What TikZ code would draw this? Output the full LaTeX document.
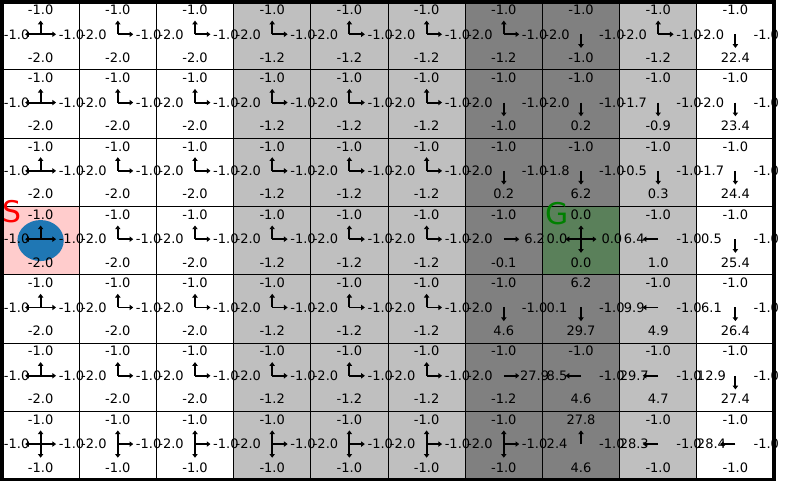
\documentclass[tikz,border=0pt]{standalone}
\usepackage{fontspec}
\setmainfont{DejaVu Sans}
\usepackage{xcolor}
\usetikzlibrary{arrows.meta}

\definecolor{windone}{gray}{0.75}
\definecolor{windtwo}{gray}{0.5}
\definecolor{startred}{RGB}{255,204,204}
\definecolor{goalgreen}{RGB}{90,128,90}
\definecolor{agentblue}{RGB}{31,119,180}

\begin{document}
\begin{tikzpicture}[
    x=1.544cm, y=-1.366cm,
    qval/.style={font=\fontsize{7.4}{8}\selectfont, inner sep=0pt},
    qarrow/.style={line width=1.1pt, -{Triangle[length=2.1pt,width=3pt]}},
    cellline/.style={line width=0.55pt},
    frameline/.style={line width=2.3pt},
    bigletter/.style={font=\fontsize{17}{17}\selectfont, inner sep=0pt, anchor=west}
]
    \useasboundingbox (-0.026,-0.022) rectangle (10.1425,7.02);

    % Wind columns
    \foreach \c/\w in {3/windone,4/windone,5/windone,6/windtwo,7/windtwo,8/windone}
        \fill[\w] (\c,0) rectangle ++(1,7);

    % Start and goal cells
    \fill[startred] (0,3) rectangle ++(1,1);
    \fill[goalgreen] (7,3) rectangle ++(1,1);

    % Grid
    \foreach \c in {1,...,9}
        \draw[cellline] (\c,0) -- (\c,7);
    \foreach \r in {1,...,6}
        \draw[cellline] (0,\r) -- (10,\r);

    % Agent
    \fill[agentblue] (0.5,3.5) ellipse [x radius=0.463cm, y radius=0.41cm];

    % Start and goal letters
    \node[bigletter, text=red] (slbl) at (0.0,3.07) {S};
    \node[bigletter, text={rgb,255:red,0;green,128;blue,0}] (glbl) at (7.04,3.1) {G};

    % Action values: col/row/up/left/right/down/{greedy directions}
    \foreach \c/\r/\qu/\ql/\qr/\qd/\ar in {
        0/0/-1.0/-1.0/-1.0/-2.0/{270,180,0}, 1/0/-1.0/-2.0/-1.0/-2.0/{270,0},
        2/0/-1.0/-2.0/-1.0/-2.0/{270,0}, 3/0/-1.0/-2.0/-1.0/-1.2/{270,0},
        4/0/-1.0/-2.0/-1.0/-1.2/{270,0}, 5/0/-1.0/-2.0/-1.0/-1.2/{270,0},
        6/0/-1.0/-2.0/-1.0/-1.2/{270,0}, 7/0/-1.0/-2.0/-1.0/-1.0/{90},
        8/0/-1.0/-2.0/-1.0/-1.2/{270,0}, 9/0/-1.0/-2.0/-1.0/22.4/{90},
        0/1/-1.0/-1.0/-1.0/-2.0/{270,180,0}, 1/1/-1.0/-2.0/-1.0/-2.0/{270,0},
        2/1/-1.0/-2.0/-1.0/-2.0/{270,0}, 3/1/-1.0/-2.0/-1.0/-1.2/{270,0},
        4/1/-1.0/-2.0/-1.0/-1.2/{270,0}, 5/1/-1.0/-2.0/-1.0/-1.2/{270,0},
        6/1/-1.0/-2.0/-1.0/-1.0/{90}, 7/1/-1.0/-2.0/-1.0/0.2/{90},
        8/1/-1.0/-1.7/-1.0/-0.9/{90}, 9/1/-1.0/-2.0/-1.0/23.4/{90},
        0/2/-1.0/-1.0/-1.0/-2.0/{270,180,0}, 1/2/-1.0/-2.0/-1.0/-2.0/{270,0},
        2/2/-1.0/-2.0/-1.0/-2.0/{270,0}, 3/2/-1.0/-2.0/-1.0/-1.2/{270,0},
        4/2/-1.0/-2.0/-1.0/-1.2/{270,0}, 5/2/-1.0/-2.0/-1.0/-1.2/{270,0},
        6/2/-1.0/-2.0/-1.0/0.2/{90}, 7/2/-1.0/-1.8/-1.0/6.2/{90},
        8/2/-1.0/-0.5/-1.0/0.3/{90}, 9/2/-1.0/-1.7/-1.0/24.4/{90},
        0/3/-1.0/-1.0/-1.0/-2.0/{270,180,0}, 1/3/-1.0/-2.0/-1.0/-2.0/{270,0},
        2/3/-1.0/-2.0/-1.0/-2.0/{270,0}, 3/3/-1.0/-2.0/-1.0/-1.2/{270,0},
        4/3/-1.0/-2.0/-1.0/-1.2/{270,0}, 5/3/-1.0/-2.0/-1.0/-1.2/{270,0},
        6/3/-1.0/-2.0/6.2/-0.1/{0}, 7/3/0.0/0.0/0.0/0.0/{270,180,0,90},
        8/3/-1.0/6.4/-1.0/1.0/{180}, 9/3/-1.0/0.5/-1.0/25.4/{90},
        0/4/-1.0/-1.0/-1.0/-2.0/{270,180,0}, 1/4/-1.0/-2.0/-1.0/-2.0/{270,0},
        2/4/-1.0/-2.0/-1.0/-2.0/{270,0}, 3/4/-1.0/-2.0/-1.0/-1.2/{270,0},
        4/4/-1.0/-2.0/-1.0/-1.2/{270,0}, 5/4/-1.0/-2.0/-1.0/-1.2/{270,0},
        6/4/-1.0/-2.0/-1.0/4.6/{90}, 7/4/6.2/0.1/-1.0/29.7/{90},
        8/4/-1.0/9.9/-1.0/4.9/{180}, 9/4/-1.0/6.1/-1.0/26.4/{90},
        0/5/-1.0/-1.0/-1.0/-2.0/{270,180,0}, 1/5/-1.0/-2.0/-1.0/-2.0/{270,0},
        2/5/-1.0/-2.0/-1.0/-2.0/{270,0}, 3/5/-1.0/-2.0/-1.0/-1.2/{270,0},
        4/5/-1.0/-2.0/-1.0/-1.2/{270,0}, 5/5/-1.0/-2.0/-1.0/-1.2/{270,0},
        6/5/-1.0/-2.0/27.9/-1.2/{0}, 7/5/-1.0/8.5/-1.0/4.6/{180},
        8/5/-1.0/29.7/-1.0/4.7/{180}, 9/5/-1.0/12.9/-1.0/27.4/{90},
        0/6/-1.0/-1.0/-1.0/-1.0/{270,180,0,90}, 1/6/-1.0/-2.0/-1.0/-1.0/{270,0,90},
        2/6/-1.0/-2.0/-1.0/-1.0/{270,0,90}, 3/6/-1.0/-2.0/-1.0/-1.0/{270,0,90},
        4/6/-1.0/-2.0/-1.0/-1.0/{270,0,90}, 5/6/-1.0/-2.0/-1.0/-1.0/{270,0,90},
        6/6/-1.0/-2.0/-1.0/-1.0/{270,0,90}, 7/6/27.8/2.4/-1.0/4.6/{270},
        8/6/-1.0/28.3/-1.0/-1.0/{180}, 9/6/-1.0/28.4/-1.0/-1.0/{180}}
    {
        \coordinate (ctr-\c-\r) at (\c+0.5,\r+0.48);
        \foreach \a in \ar
            \draw[qarrow] (ctr-\c-\r) -- ++(\a:0.2);
        \node[qval] (up-\c-\r) at (\c+0.5,\r+0.12) {\qu};
        \node[qval] (lt-\c-\r) at (\c+0.19,\r+0.48) {\ql};
        \node[qval] (rt-\c-\r) at (\c+0.9,\r+0.48) {\qr};
        \node[qval] (dn-\c-\r) at (\c+0.5,\r+0.82) {\qd};
    }

    % Frame
    \draw[frameline] (0,0) rectangle (10,7);
\end{tikzpicture}
\end{document}
